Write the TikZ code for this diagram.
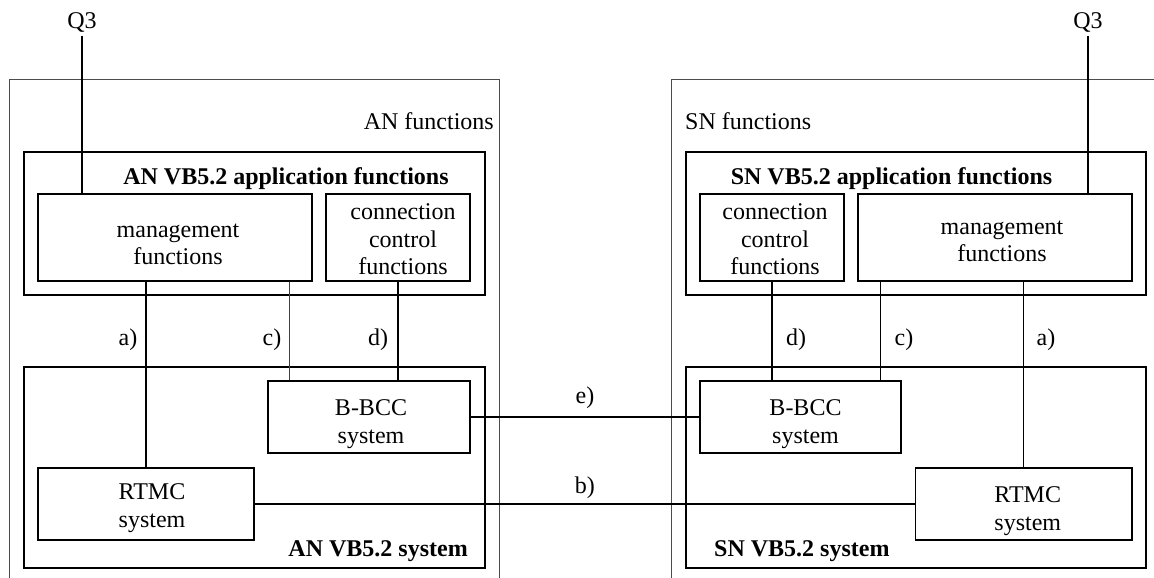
\documentclass[tikz,border=0pt]{standalone}
\usepackage{fontspec}
\setmainfont{Liberation Serif}

\begin{document}
\begin{tikzpicture}[x=1pt,y=-1pt,font=\fontsize{24}{27.5}\selectfont]
			\tikzstyle{frame}=[draw=black!70,line width=1pt,inner sep=0pt]
			\tikzstyle{box}=[draw,line width=1.3pt,inner sep=0pt]
			\tikzstyle{boxtxt}=[inner sep=0pt,align=center]
			\tikzstyle{link}=[line width=1.3pt]
			\tikzstyle{ctrl}=[line width=2.4pt]
			\tikzstyle{lbl}=[inner sep=0pt]
			\useasboundingbox (0,0) rectangle (1154,578);

			% AN side
			\node[frame,minimum width=489.5,minimum height=540] (anFunc) at (254.25,350) {};
			\node[lbl,anchor=base east] (anFuncTxt) at (494,129) {AN functions};
			\node[box,minimum width=461,minimum height=143] (anApp) at (254.5,223.5) {};
			\node[lbl,anchor=base,font=\fontsize{24}{27.5}\selectfont\bfseries] (anAppTxt) at (286,184) {AN VB5.2 application functions};
			\node[box,minimum width=274,minimum height=87] (anMgmt) at (175,237.5) {};
			\node[boxtxt] (anMgmtTxt) at ([xshift=3pt,yshift=-7pt]anMgmt.center) {management\\functions};
			\node[box,minimum width=144,minimum height=87] (anCc) at (398,237.5) {};
			\node[boxtxt] (anCcTxt) at ([xshift=5pt,yshift=-2pt]anCc.center) {connection\\control\\functions};
			\node[box,minimum width=461,minimum height=201] (anSys) at (254.5,467.5) {};
			\node[lbl,anchor=base east,font=\fontsize{24}{27.5}\selectfont\bfseries] (anSysTxt) at (468,556) {AN VB5.2 system};
			\node[box,minimum width=202,minimum height=72] (anBbcc) at (369,417) {};
			\node[boxtxt] (anBbccTxt) at ([xshift=2pt,yshift=-7pt]anBbcc.center) {B-BCC\\system};
			\node[box,minimum width=216,minimum height=72] (anRtmc) at (146,504) {};
			\node[boxtxt] (anRtmcTxt) at ([xshift=6pt,yshift=-4pt]anRtmc.center) {RTMC\\system};
			\node[inner sep=2.5pt,anchor=base] (q3An) at (82,29) {Q3};

			% SN side
			\node[frame,minimum width=528.5,minimum height=540] (snFunc) at (935.75,350) {};
			\node[lbl,anchor=base west] (snFuncTxt) at (685,129) {SN functions};
			\node[box,minimum width=460,minimum height=143] (snApp) at (916,223.5) {};
			\node[lbl,anchor=base,font=\fontsize{24}{27.5}\selectfont\bfseries] (snAppTxt) at (891.5,184) {SN VB5.2 application functions};
			\node[box,minimum width=144,minimum height=87] (snCc) at (772,237.5) {};
			\node[boxtxt] (snCcTxt) at ([xshift=3pt,yshift=-2pt]snCc.center) {connection\\control\\functions};
			\node[box,minimum width=274,minimum height=87] (snMgmt) at (995,237.5) {};
			\node[boxtxt] (snMgmtTxt) at ([xshift=7pt,yshift=-4pt]snMgmt.center) {management\\functions};
			\node[box,minimum width=460,minimum height=201] (snSys) at (916,467.5) {};
			\node[lbl,anchor=base west,font=\fontsize{24}{27.5}\selectfont\bfseries] (snSysTxt) at (714,556) {SN VB5.2 system};
			\node[box,minimum width=201,minimum height=72] (snBbcc) at (800.5,417) {};
			\node[boxtxt] (snBbccTxt) at ([xshift=5pt,yshift=-7pt]snBbcc.center) {B-BCC\\system};
			\node[box,minimum width=216.5,minimum height=72] (snRtmc) at (1023.75,504) {};
			\node[boxtxt] (snRtmcTxt) at ([xshift=4pt,yshift=-7pt]snRtmc.center) {RTMC\\system};
			\node[inner sep=2.5pt,anchor=base] (q3Sn) at (1088,29) {Q3};

			% reference points
			\draw[link] (q3An.south) -- (q3An.south |- anMgmt.north);
			\draw[ctrl] (q3Sn.south) -- (q3Sn.south |- snMgmt.north);
			\draw[link] (anMgmt.south -| anRtmc.north) -- (anRtmc.north);
			\coordinate (cAn) at ([xshift=22pt]anBbcc.north west);
			\draw[line width=1pt,black!75] (cAn |- anMgmt.south) -- (cAn);
			\draw[ctrl] (anCc.south) -- (anCc.south |- anBbcc.north);
			\draw[ctrl] (snCc.south) -- (snCc.south |- snBbcc.north);
			\coordinate (cSn) at ([xshift=-21pt]snBbcc.north east);
			\draw[link] (cSn |- snMgmt.south) -- (cSn);
			\draw[link] (snMgmt.south -| snRtmc.north) -- (snRtmc.north);
			\draw[link] (anBbcc.east) -- node[above=4pt] (labE) {e)} (snBbcc.west);
			\draw[link] (anRtmc.east) -- node[above=1pt] (labB) {b)} (snRtmc.west);

			\node[lbl] (labA1) at (128,340) {a)};
			\node[lbl] (labC1) at (272,340) {c)};
			\node[lbl] (labD1) at (378,340) {d)};
			\node[lbl] (labD2) at (796,340) {d)};
			\node[lbl] (labC2) at (904,340) {c)};
			\node[lbl] (labA2) at (1046,340) {a)};
\end{tikzpicture}
\end{document}
